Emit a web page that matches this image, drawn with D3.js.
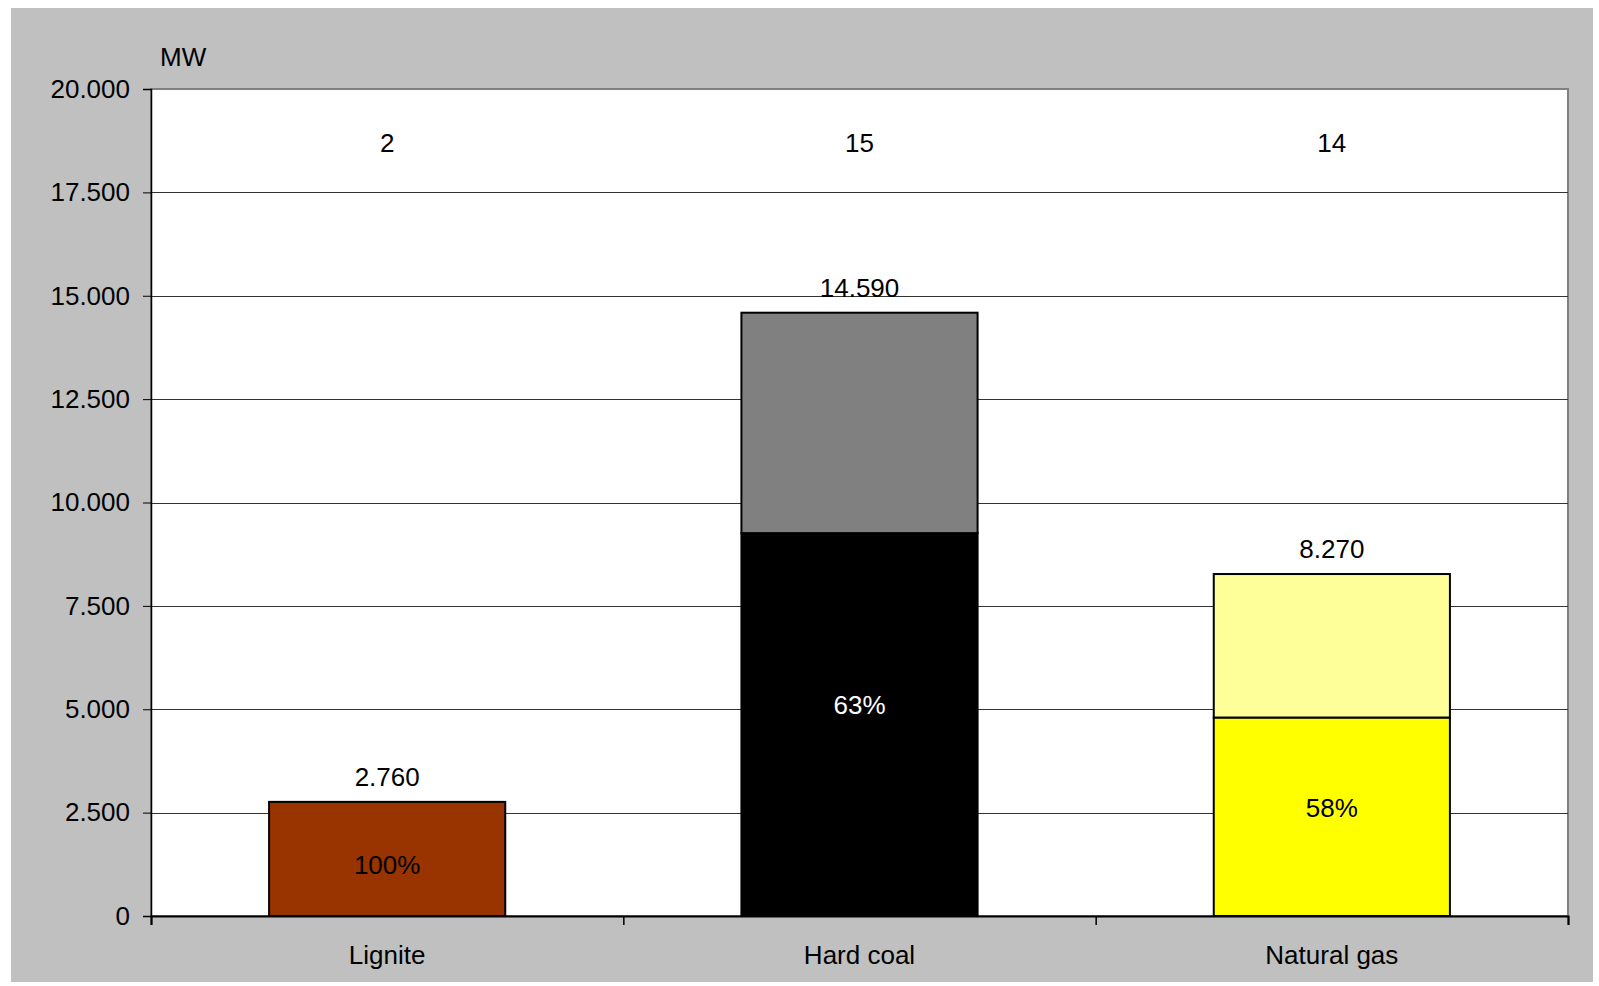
<!DOCTYPE html>
<html>
<head>
<meta charset="utf-8">
<script src="https://cdn.jsdelivr.net/npm/d3@7"></script>
<style>
  body { margin: 0; background: #fff; }
  text { font-family: "Liberation Sans", Arial, sans-serif; }
</style>
</head>
<body>
<div id="chart"></div>
<script>
// data
var categories = ["Lignite", "Hard coal", "Natural gas"];
var lowerMW = [2760, 9260, 4800];      // dark part of each bar
var upperMW = [0, 5330, 3470];         // light part on top
var shareLabels = ["100%", "63%", "58%"];
var shareLabelAt = [1230, 5100, 2610]; // MW level where the % label sits
var plantCounts = ["2", "15", "14"];
var plantCountAt = 18700;
var yTicks = [0, 2500, 5000, 7500, 10000, 12500, 15000, 17500, 20000];
var lowerColors = ["#993300", "#000000", "#ffff00"];
var upperColors = ["#993300", "#808080", "#ffff99"];
var shareColors = ["#000", "#fff", "#000"];

var width = 1599, height = 986;
var margin = {top: 89, right: 31, bottom: 70, left: 151};
var w = width - margin.left - margin.right;
var h = height - margin.top - margin.bottom;

var fmt = d3.formatLocale({decimal: ",", thousands: ".", grouping: [3], currency: ["", ""]}).format(",d");

var svg = d3.select("#chart")
  .append("svg")
  .attr("width", width)
  .attr("height", height);

// grey chart area
svg.append("rect")
  .attr("x", 11).attr("y", 8)
  .attr("width", 1582).attr("height", 974)
  .attr("fill", "#c0c0c0");

var g = svg.append("g")
  .attr("transform", "translate(" + margin.left + "," + margin.top + ")");

g.append("rect")
  .attr("width", w).attr("height", h)
  .attr("fill", "#fff")
  .attr("stroke", "#808080")
  .attr("stroke-width", 2);

var x = d3.scaleBand()
  .domain(categories)
  .range([0, w])
  .paddingInner(0.5)
  .paddingOuter(0.25);

var y = d3.scaleLinear()
  .domain([0, 20000])
  .range([h, 0]);

// gridlines
g.append("g")
  .selectAll("line")
  .data(yTicks.slice(1, -1))
  .enter().append("line")
  .attr("x1", 0).attr("x2", w)
  .attr("y1", function(d) { return Math.round(y(d)) + 0.5; })
  .attr("y2", function(d) { return Math.round(y(d)) + 0.5; })
  .attr("stroke", "#333")
  .attr("stroke-width", 1);

// Y axis
var yAxis = g.append("g")
  .call(d3.axisLeft(y).tickValues(yTicks).tickFormat(fmt).tickSize(8).tickPadding(13));
yAxis.select(".domain").attr("stroke", "#000").attr("stroke-width", 1.5);
yAxis.selectAll(".tick line").attr("stroke", "#000");
yAxis.selectAll("text")
  .attr("font-size", 26)
  .attr("fill", "#000")
  .style("font-family", "Liberation Sans, Arial, sans-serif");

// X axis: ticks between categories
var xEdges = d3.scaleLinear().domain([0, categories.length]).range([0, w]);
var xAxis = g.append("g")
  .attr("transform", "translate(0," + h + ")")
  .call(d3.axisBottom(xEdges).ticks(categories.length).tickSize(9).tickFormat(""));
xAxis.select(".domain").attr("stroke", "#000").attr("stroke-width", 2);
xAxis.selectAll(".tick line").attr("stroke", "#000").attr("stroke-width", 1.5);

g.append("g")
  .selectAll("text")
  .data(categories)
  .enter().append("text")
  .attr("x", function(d) { return x(d) + x.bandwidth() / 2; })
  .attr("y", h + 48)
  .attr("text-anchor", "middle")
  .attr("font-size", 26)
  .text(function(d) { return d; });

// stacked bars
var bars = g.append("g");
bars.selectAll(".lower")
  .data(categories)
  .enter().append("rect")
  .attr("x", function(d) { return x(d); })
  .attr("width", x.bandwidth())
  .attr("y", function(d, i) { return y(lowerMW[i]); })
  .attr("height", function(d, i) { return y(0) - y(lowerMW[i]); })
  .attr("fill", function(d, i) { return lowerColors[i]; })
  .attr("stroke", "#000")
  .attr("stroke-width", 2);

bars.selectAll(".upper")
  .data(categories.filter(function(d, i) { return upperMW[i] > 0; }))
  .enter().append("rect")
  .attr("x", function(d) { return x(d); })
  .attr("width", x.bandwidth())
  .attr("y", function(d) { var i = categories.indexOf(d); return y(lowerMW[i] + upperMW[i]); })
  .attr("height", function(d) { var i = categories.indexOf(d); return y(lowerMW[i]) - y(lowerMW[i] + upperMW[i]); })
  .attr("fill", function(d) { return upperColors[categories.indexOf(d)]; })
  .attr("stroke", "#000")
  .attr("stroke-width", 2);

// totals above bars
g.append("g")
  .selectAll("text")
  .data(categories)
  .enter().append("text")
  .attr("x", function(d) { return x(d) + x.bandwidth() / 2; })
  .attr("y", function(d, i) { return y(lowerMW[i] + upperMW[i]) - 16; })
  .attr("text-anchor", "middle")
  .attr("font-size", 26)
  .text(function(d, i) { return fmt(lowerMW[i] + upperMW[i]); });

// share labels inside bars
g.append("g")
  .selectAll("text")
  .data(categories)
  .enter().append("text")
  .attr("x", function(d) { return x(d) + x.bandwidth() / 2; })
  .attr("y", function(d, i) { return y(shareLabelAt[i]); })
  .attr("dy", "0.35em")
  .attr("text-anchor", "middle")
  .attr("font-size", 26)
  .attr("fill", function(d, i) { return shareColors[i]; })
  .text(function(d, i) { return shareLabels[i]; });

// plant counts near the top
g.append("g")
  .selectAll("text")
  .data(categories)
  .enter().append("text")
  .attr("x", function(d) { return x(d) + x.bandwidth() / 2; })
  .attr("y", y(plantCountAt))
  .attr("dy", "0.35em")
  .attr("text-anchor", "middle")
  .attr("font-size", 26)
  .text(function(d, i) { return plantCounts[i]; });

// unit
svg.append("text")
  .attr("x", 160)
  .attr("y", 66)
  .attr("font-size", 26)
  .text("MW");
</script>
</body>
</html>
